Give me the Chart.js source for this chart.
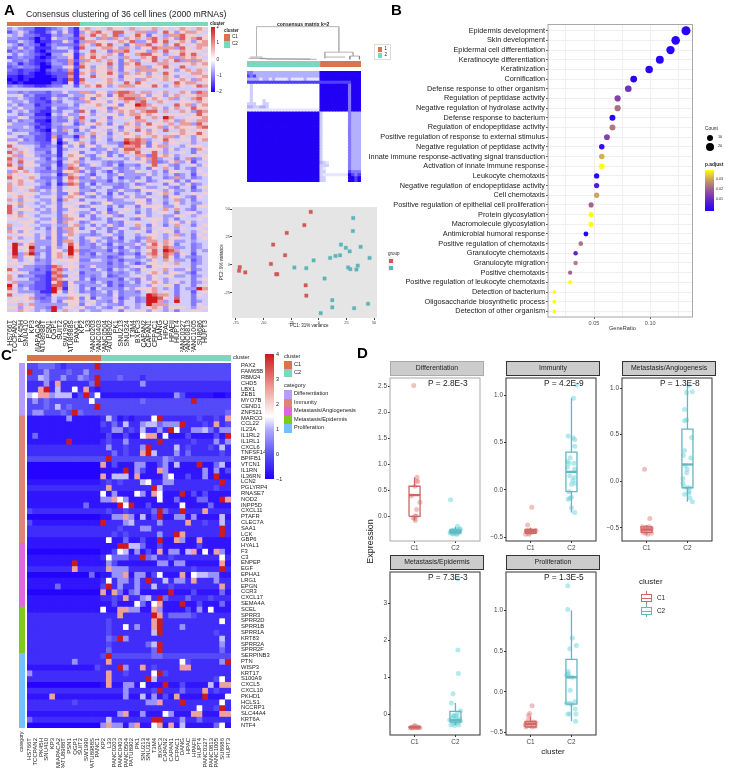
<!DOCTYPE html>
<html>
<head>
<meta charset="utf-8">
<title>Consensus clustering figure</title>
<script src="https://cdn.jsdelivr.net/npm/chart.js@4"></script>
<style>
body { margin: 0; background: #fff; font-family: "Liberation Sans", Arial, sans-serif; }
#fig { position: relative; width: 729px; height: 768px; overflow: hidden; filter: blur(0.35px); }
#fig canvas { position: absolute; }
.t { position: absolute; white-space: nowrap; line-height: 1; color: #222; }
.b { position: absolute; box-sizing: border-box; }
</style>
</head>
<body>
<div id="fig"></div>
<script>
// ---------- datos ----------
const clusterCounts = [13, 23];
const clusterColors = ['#D8754A', '#7DD6BE'];

// Panel A: 36 lineas celulares, niveles 0-9 (13 C1 + 23 C2), leidos a ojo
const aCols = ['HS766T','TCCPAN2','PK45H','SNU410','KP3','MIAPACA2','PATU8988T','PSN1','QGP1','SUIT2','SW1990','PATU8988S','PANC1','KP2','L33','PANC0203','PANC0403','PANC0504','PATU8902','PK1','SNU213','SNU324','T3M4','BXPC3','CAPAN2','CAPAN1','CFPAC1','DANG','HPAC','HPAFII','HUPT4','PANC0327','PANC0813','PANC1005','SU8686','HUPT3'];
const aLevelValues = [-2, -1.6, -1.25, -0.95, -0.7, -0.3, 0.35, 0.85, 1.4, 2];
const aRows = [
'45433 11234 531 67565 76657 56675 65676 576','24642 11353 631 46786 58865 77446 86467 765',
'54533 21143 441 75867 68456 86365 47786 656','44332 02164 432 86547 47576 75785 76486 786',
'33543 01133 641 47766 56768 44686 85676 467','54243 20243 332 76486 85536 77856 46865 677',
'43634 11145 541 85567 76475 46687 77486 576','24343 10233 352 55856 37785 66475 86676 665',
'53543 21044 661 46765 76365 78866 45686 856','23433 10134 461 76867 55475 57685 57476 765',
'53342 11243 372 47675 76367 46685 76847 476','34132 10144 371 76556 85376 85557 75566 767',
'23433 20033 562 86466 46366 77466 86585 566','32122 10232 371 56766 75365 47776 56467 575',
'22121 00122 281 76466 86475 76465 86556 776','11011 00012 271 56866 56366 66766 76465 567',
'01010 00002 181 85556 75466 47656 76676 476','10100 00022 161 76566 76585 86565 55867 756',
'34322 11233 552 57686 45777 66686 46765 687','55555 55555 555 55555 55655 55555 55555 555',
'44343 33244 644 77466 47887 57756 75576 487','55634 22243 354 46676 36877 76466 46756 677',
'44543 21264 543 76365 66788 47676 57465 786','54453 22143 554 47666 46576 78557 65566 576',
'45344 12244 453 56675 66366 98765 55867 467','54644 22153 344 65566 37666 77576 46756 866',
'35453 21143 553 86356 45767 57885 75576 487','55344 11054 644 56465 66467 76766 56665 686',
'44653 22143 464 85556 36565 86575 97556 667','35344 11043 353 75366 45556 77556 76476 577',
'64443 21144 652 46675 36576 46866 57577 486','44454 12143 444 65356 65366 75667 46766 678',
'53444 21053 752 54665 46465 86465 85576 566','45553 32143 354 45756 35676 56765 56676 686',
'65344 22172 441 76365 46566 76576 77465 466','44634 22161 653 55465 35587 87456 86566 467',
'66444 32250 356 75355 44398 87365 46655 455','85655 42341 646 36646 55377 86367 75546 665',
'57565 33351 455 55344 64688 75666 46455 376','85765 44251 566 35545 34576 86585 45565 365',
'67466 43341 576 64356 35355 77386 76455 656','85755 54252 466 35345 65546 46784 55357 346',
'75866 44341 567 45554 34355 66483 46746 255','86466 53351 476 34654 35244 35685 64355 646',
'66855 44252 487 64345 64345 45365 75354 355','47675 43342 667 35354 25344 65545 36655 365',
'76566 54451 376 54255 34644 44645 45345 256','86657 53342 587 34645 35244 35355 34745 345',
'56766 44352 676 44344 25454 65345 66353 655','76755 54251 387 35254 44345 34655 35646 345',
'75666 43353 566 34545 53345 65445 64355 256','75657 45463 666 44355 34644 36665 46445 345',
'66566 54453 367 35645 25355 45356 75355 656','56765 45563 576 64354 35646 44655 36654 365',
'75466 54462 765 35555 34455 66365 45745 355','56755 45453 556 65346 64444 66455 35645 445',
'86465 54563 665 34655 35355 36666 44655 366','85666 45463 466 55355 25565 45465 75754 355',
'86455 54453 565 44646 34655 35456 65356 645','56765 45553 766 35355 64355 66455 44665 456',
'66556 54463 476 65345 35654 35666 45355 565','55666 45563 765 34655 34365 65565 46646 455',
'75565 54454 467 45354 64355 75365 35755 356','46666 45363 776 35645 34654 46456 65465 565',
'76465 55463 476 55355 35355 65365 66355 456','55666 45463 675 44345 64355 45665 45745 365',
'76455 46363 465 35654 35255 34765 46655 356','55656 44463 775 34645 34354 35775 76445 455',
'69467 44463 586 34354 25444 64686 76355 345','59669 45364 596 44345 34254 35776 87445 345',
'69568 44366 497 33444 25345 45685 98755 354','59479 35367 696 34254 44244 25786 87365 255',
'68466 45367 576 44344 23455 34675 86354 345','56456 34356 666 33554 34244 45465 76445 245',
'66565 44365 565 44444 24354 24665 65755 345','55644 33287 666 34644 34345 65366 66555 355',
'86444 23278 465 44354 25454 36565 75446 345','65653 33187 556 24445 34345 45676 46654 255',
'76344 22178 365 34345 23445 65465 66445 345','75553 32187 656 35244 44254 36465 45555 356',
'57444 22168 264 44354 24345 35676 45645 345','96343 22188 265 34445 24244 45465 66355 356',
'85453 22197 165 35254 44354 66675 45354 497','66444 31196 365 34345 35344 35675 65355 256',
'85565 33265 566 55344 36344 45987 75355 365','56667 32354 476 36254 45245 34998 65855 355',
'66565 43353 666 45644 36355 34997 45955 345','55757 44444 466 36545 44355 45977 75555 365',
'66466 44394 565 64454 35645 45676 46665 456','55765 45495 756 45445 55365 66465 45355 665'
];
const aBarTicks = ['2', '1', '0', '\u22121', '\u22122'];

// Matriz de consenso k=2, niveles 0 (blanco) a 6 (azul)
const consensusRows = [
'44333333333333333333333 6666666666666','54533333333333333333333 6666666666666',
'33331331311113111131111 6666666666666','55555555555555555555555 5555555555666',
'02000000000000000000000 6666666664666','02000000000000000000000 6666666664666',
'02000000000000000000000 6666666664666','02000000000000000000000 6666666664666',
'02000000000000000000000 6666666664666','02000200000000000000000 6666666664666',
'22200220000000000000000 6666666664666','33223320000000000000000 6666666664666',
'11111111111111111111111 6666666664666','66666666666666666666666 2000000004333',
'66666666666666666666666 2000000004333','66666666666666666666666 2000000004333',
'66666666666666666666666 2000000004333','66666666666666666666666 2000000004333',
'66666666666666666666666 2000000004333','66666666666666666666666 2000000004333',
'66666666666666666666666 2000000004333','66666666666666666666666 2000000004333',
'66666666666666666666666 2000000004333','66666666666666666666666 2000000004333',
'66666666666666666666666 2000000004333','66666666666666666666666 2000000004333',
'66666666666666666666666 2000000004333','66666666666666666666666 2000000004333',
'66666666666666666666666 2000000004333','66666666666666666666666 3210000004333',
'66666666666666666666666 2220000004333','66666666666666666666666 2100000004333',
'66666666666666666666666 2200000005444','66666666666666666666666 2111111116545',
'66666666666666666666666 2200000006656','66666666666666666666666 2200000006656'
];
// dendrograma: segmentos x1,h1,x2,h2 (x en columnas, h en altura relativa)
const dendroMain = [[3,0.08,3,1],[3,1,29,1],[29,1,29,0.22],[24.6,0.22,33.5,0.22],[24.6,0.22,24.6,0.03],[33.5,0.22,33.5,0.1]];
const dendroLow = [[0.5,0.03,6,0.03],[1,0.07,5,0.07],[4,0.02,22,0.0],[6,0.01,20,0.01],[24.6,0.07,31,0.07],[32.5,0.1,35.5,0.1],[32.5,0.1,32.5,0],[35.5,0.1,35.5,0]];

// Panel PCA
const pcaRedX = [-7.3,-13.1,-29,-41.3,-30.5,-43.3,-71.5,-72.1,-66.5,-38.5,-37.6,-11.9,-11.3];
const pcaRedY = [47.4,35.5,28.5,18,8.4,0.6,-2.3,-5.5,-7,-8.7,-8.7,-18.6,-27.9];
const pcaTealX = [31.1,30.8,20,24.4,27.9,37.8,45.9,19.2,15.1,10.2,-4.7,-22.1,-11.3,26.5,28.5,35.2,34,5.2,12.2,12.2,31.9,44.5,1.7];
const pcaTealY = [41.9,30.2,18,15.1,11.9,16,6,8.4,7.8,6,3.8,-2.6,-3.2,-2.6,-4.1,-0.9,-4.4,-12.5,-32,-38.4,-39.2,-35.2,-43.6];
const pcaXTicks = [-75, -50, -25, 0, 25, 50];
const pcaYTicks = [-25, 0, 25, 50];
const pcaXGrid = [-62.5, -37.5, -12.5, 12.5, 37.5];
const pcaYGrid = [-37.5, -12.5, 12.5, 37.5];

// Panel B
const goTerms = ['Epidermis development','Skin development','Epidermal cell differentiation','Keratinocyte differentiation','Keratinization','Cornification','Defense response to other organism','Regulation of peptidase activity','Negative regulation of hydrolase activity','Defense response to bacterium','Regulation of endopeptidase activity','Positive regulation of response to external stimulus','Negative regulation of peptidase activity','Innate immune response-activating signal transduction','Activation of innate immune response','Leukocyte chemotaxis','Negative regulation of endopeptidase activity','Cell chemotaxis','Positive regulation of epithelial cell proliferation','Protein glycosylation','Macromolecule glycosylation','Antimicrobial humoral response','Positive regulation of chemotaxis','Granulocyte chemotaxis','Granulocyte migration','Positive chemotaxis','Positive regulation of leukocyte chemotaxis','Detection of bacterium','Oligosaccharide biosynthetic process','Detection of other organism'];
const goRatio = [.1319,.1227,.1181,.1086,.0991,.0853,.0805,.071,.071,.0664,.0664,.0615,.0569,.0569,.0569,.0523,.0523,.0523,.0474,.0474,.0474,.0428,.0382,.0336,.0336,.0287,.0287,.0147,.0147,.0147];
const goCount = [27,25,24,22,20,17,16,14,14,13,13,12,11,11,11,10,10,10,9,9,9,8,7,6,6,5,5,3,3,3];
const goPadj = [.001,.001,.001,.001,.001,.001,.013,.016,.024,.001,.025,.016,.003,.032,.04,.002,.008,.031,.022,.04,.04,.001,.024,.01,.026,.022,.04,.04,.04,.04];
const goGridX = [0.025, 0.05, 0.075, 0.1, 0.125];
const goLabelX = [0.05, 0.1];

// Panel C: valores por nivel, fondo por fila y celdas destacadas [col, nivel, ...]
const cGenes = ['PAX2','FAM65B','RBM24','CHD5','LBX1','ZEB1','MYO7B','CEND1','ZNF521','MARCO','CCL22','IL23A','IL1RL2','IL1RL1','CXCL6','TNFSF14','BPIFB1','VTCN1','IL1RN','IL36RN','LCN2','PGLYRP4','RNASE7','NOD2','INPP5D','CXCL11','PTAFR','CLEC7A','SAA1','LCK','GBP6','HYAL1','F3','C3','ENPEP','EGF','EPHA1','LRG1','EPGN','CCR3','CXCL17','SEMA4A','SCEL','SPRR3','SPRR2D','SPRR1B','SPRR1A','KRT83','SPRR2A','SPRR2F','SERPINB3','PTN','WISP3','KRT17','S100A9','CXCL5','CXCL10','PKHD1','HCLS1','NCCRP1','SLC44A4','KRT6A','NTF4'];
const cCols = aCols;
const cLevelValues = [-0.95, -0.75, -0.45, -0.1, 0.25, 0.7, 1.1, 1.5, 2.6, 4];
const cBaseC1 = [3,3,3,2,2,3,3,3,3,1,1,1,1,1,2,2,3,0,0,0,1,2,1,1,1,2,0,1,2,2,1,1,0,1,1,2,0,1,1,0,1,1,1,2,2,2,2,2,2,2,2,2,1,2,2,0,2,1,2,2,1,2,0];
const cBaseC2 = [3,3,3,2,2,1,3,3,3,2,2,2,1,2,2,2,3,1,1,1,2,2,1,1,1,2,1,2,2,2,1,1,1,2,1,2,1,2,2,1,2,1,1,2,2,2,2,2,2,2,3,2,2,2,2,1,2,1,2,2,1,2,1];
const cHot = [
[12,9,2,4,3,4,4,4,6,2],
[0,9,3,5,10,5,7,4,13,3],
[2,6,3,5,6,5,9,5,10,4,12,9,16,4,20,2],
[3,5,5,8,12,9,20,5,11,4],
[2,8,3,9,5,6,8,7,10,8,12,1,24,2],
[0,6,1,7,2,8,3,8,4,5,5,6,6,6,7,6,8,1,9,3,10,9,11,3,12,7,26,5,27,3,33,0,34,0],
[1,5,3,4,11,7,29,9,20,4],
[5,6,12,9,7,4,3,4],
[1,5,2,5,6,4,8,9,9,4,35,4],
[7,5,14,6,15,3,16,1,18,1,22,7,23,9,35,8,30,3,33,3],
[13,3,15,4,17,6,20,5,21,6,22,6,23,4,24,5,25,5,26,5,27,9,31,3,33,8,35,3],
[15,5,16,5,18,3,20,6,23,5,25,9,26,7,29,5,30,5,31,6,32,4,34,5,35,5],
[1,4,14,3,17,3,20,7,21,8,22,8,24,7,28,3,33,3,35,9],
[7,9,14,3,17,5,23,9,26,2,29,3,33,5,35,5],
[14,5,17,3,20,5,21,9,26,6,34,6,28,3,32,3],
[15,4,17,3,20,8,21,9,22,6,26,5,28,4,34,3],
[14,9,24,5,25,4],
[13,8,15,3,19,5,20,5,24,5,26,6,30,9,33,4,34,6,23,3],
[17,9,19,5,20,3,23,8,24,5,31,5,33,5,35,3],
[13,8,15,6,16,6,17,6,19,8,24,5,25,7,33,9,28,3,31,5],
[20,6,21,7,24,5,25,5,34,9,14,3,16,3],
[14,8,22,9,23,6,33,3],
[13,7,15,5,19,7,20,5,22,8,23,7,27,9,29,3,31,3],
[13,5,14,5,15,8,16,7,17,5,23,7,26,4,30,4,31,4,34,9,35,8],
[10,4,16,9,17,7,18,9,27,7,32,4,21,3],
[0,3,14,3,23,9,24,4,27,9,31,8,22,4,17,3],
[15,5,16,5,17,8,18,5,20,6,23,9,26,5,27,5,29,5,34,6,22,3],
[0,3,13,9,17,5,18,6,23,5,28,8,34,6,31,3],
[20,5,21,5,34,9,16,3],
[17,3,23,5,26,9,27,8,34,9,15,3],
[14,7,17,4,23,9,26,8,27,5,30,8,20,3],
[16,9,17,9,18,6,19,6,20,4,30,3,23,3],
[15,3,16,7,17,6,19,5,23,8,25,5,26,5,28,6,29,8,31,7,33,8,34,5,21,3],
[14,7,15,4,16,4,17,4,20,9,21,4,22,5,34,7,25,3],
[8,9,14,5,23,5,24,5,26,5,27,5,34,8,15,3],
[8,8,14,8,15,5,16,5,17,5,34,9,29,3],
[11,4,15,5,16,5,17,8,19,5,20,5,23,7,27,8,29,7,30,6,31,6,32,5,33,5,22,3],
[14,7,16,5,17,5,19,5,21,9,24,6,26,5,27,5,29,8,33,5],
[5,4,14,9,16,5,19,5,22,6,34,8,13,3,25,3],
[13,8,15,8,16,4,18,4,19,5,25,9,34,4,29,3],
[17,8,20,5,21,6,23,9,24,4,28,4,15,3,32,3],
[19,7,20,4,22,7,23,8,27,9,34,4,30,3,15,3],
[13,7,16,8,17,8,18,5,19,5,22,8,23,5,30,5,32,7,28,3],
[16,8,22,9,23,8,25,4,26,4,27,4,28,4,29,3],
[22,8,23,9,34,7,14,3],
[17,7,19,5,22,8,23,9,27,5,14,3],
[22,6,23,9,14,3,33,3],
[14,4,16,9,17,5,34,6,15,3],
[21,4,22,6,23,9,34,5,14,3],
[14,4,22,4,23,9,34,4],
[14,9,22,4,23,4],
[8,5,14,8,27,7,34,5,35,9,28,3],
[16,9,17,5,20,8,27,8,28,8,12,3,22,3],
[0,5,14,8,22,7,23,9,24,3,17,3],
[14,8,21,9,22,6,34,7,33,3],
[14,8,17,5,18,5,20,7,24,9,32,6,34,8,35,8,27,3],
[17,5,23,9,27,4,31,8,22,3,33,3],
[4,8,17,5,20,6,22,5,26,8,31,9,35,7,24,3],
[21,5,22,5,23,8,27,9,34,7,8,3],
[34,9,30,7,33,3],
[16,5,17,8,20,5,24,7,25,5,29,8,30,8,34,8,35,8],
[0,4,14,6,22,9,23,9,27,5,30,4],
[13,5,14,8,15,5,16,5,18,5,19,8,22,7,23,8,25,8,27,6,33,4,34,7]
];
const cCategoryCounts = [9, 22, 11, 8, 13];
const cCategoryNames = ['Differentiation', 'Immunity', 'Metastasis/Angiogenesis', 'Metastasis/Epidermis', 'Proliferation'];
const cCategoryColors = ['#B59CFF', '#DE8377', '#E066E0', '#80C81E', '#72C0FF'];
const cBarTicks = ['4', '3', '2', '1', '0', '\u22121'];

// Panel D: puntos [x, expresion] y cajas [min, q1, mediana, q3, max]
const diffC1 = [[.98,2.52],[1.06,.755],[1.04,.68],[1.08,.67],[1.01,.58],[1.05,.13],[1.02,.01],[1,-.04],[1.02,-.08],[.96,-.02],[1.04,0],[.92,.39],[1.13,.27]];
const diffC2 = [[1.88,.32],[2.05,-.19],[2.1,-.24],[1.9,-.27],[1.94,-.27],[1.98,-.26],[2.02,-.26],[2.08,-.27],[2.12,-.25],[1.89,-.3],[1.93,-.3],[1.97,-.29],[2.01,-.29],[2.05,-.3],[2.09,-.29],[1.87,-.32],[1.92,-.33],[1.96,-.32],[2,-.32],[2.04,-.33],[2.07,-.31],[2.03,-.35],[1.95,-.34]];
const immuC1 = [[1.03,-.185],[.93,-.373],[.88,-.47],[.91,-.44],[.95,-.46],[.98,-.44],[1,-.43],[1.03,-.45],[1.06,-.44],[1.1,-.44],[1.13,-.43],[.93,-.43],[.96,-.47]];
const immuC2 = [[2.05,.97],[2.12,1.11],[1.92,.57],[2.04,.55],[2.08,.53],[2.08,.46],[1.97,.34],[1.94,.28],[2.06,.28],[1.9,.24],[2.08,.22],[1.96,.15],[2.03,.1],[2.08,.07],[1.94,-.02],[1.96,-.09],[1.92,-.1],[2,-.08],[2,-.19],[2.08,-.24],[2,.06],[2.07,.13],[1.9,.3]];
const metaC1 = [[.95,.13],[1.08,-.4],[.9,-.49],[.93,-.52],[.97,-.5],[1,-.5],[1.04,-.52],[1.07,-.49],[1.12,-.51],[.92,-.55],[.98,-.56],[1.03,-.57],[1.12,-.56]];
const metaC2 = [[2.04,1.03],[2.12,.96],[1.98,.95],[1.93,.77],[1.93,.65],[1.98,.66],[2.1,.47],[1.93,.33],[1.9,.28],[2.08,.25],[1.99,.13],[1.98,.09],[1.89,.03],[1.89,-.02],[1.92,-.06],[2,-.07],[2.06,-.07],[2.04,-.11],[1.93,-.14],[2.03,-.13],[2.06,-.18],[2.12,-.22],[1.95,.17]];
const epidC1 = [[.9,-.37],[.93,-.36],[.96,-.35],[.98,-.37],[1,-.33],[1.02,-.36],[1.04,-.35],[1.06,-.37],[1.08,-.36],[1.1,-.36],[1.13,-.37],[.94,-.38],[1.01,-.31]];
const epidC2 = [[2.06,3.67],[2.06,1.74],[2.07,1.1],[1.94,.55],[1.9,.3],[2.12,.09],[1.96,-.05],[2.04,0],[1.92,-.12],[2.1,-.13],[1.89,-.3],[2.08,-.3],[1.98,-.2],[2.04,-.16],[1.95,-.05],[2.01,-.25],[1.86,-.16],[2.12,-.18],[2,-.1],[1.94,-.25],[2.06,-.23],[1.98,-.31],[2.02,-.05]];
const prolC1 = [[1.04,-.17],[.98,-.265],[.95,-.29],[.89,-.43],[1.11,-.42],[1.02,-.4],[.95,-.39],[1.07,-.37],[.87,-.4],[1.13,-.38],[.98,-.41],[1.04,-.43],[.95,-.34]];
const prolC2 = [[1.91,1.3],[1.91,1.01],[2.02,.66],[2.12,.57],[1.96,.53],[1.92,.25],[1.88,.21],[1.97,.02],[1.88,-.14],[1.96,-.14],[2.08,-.12],[2,-.15],[2.09,-.21],[1.91,-.27],[1.96,-.27],[2.11,-.27],[2.1,-.36],[2.02,.18],[1.94,.19],[1.92,.22]];
const diffBox = [[-.08,0,.41,.58,.75],[-.34,-.32,-.29,-.26,-.2]];
const immuBox = [[-.47,-.46,-.44,-.42,-.4],[-.24,-.02,.19,.4,.97]];
const metaBox = [[-.57,-.55,-.52,-.49,-.47],[-.22,-.07,.18,.56,1.04]];
const epidBox = [[-.39,-.37,-.36,-.35,-.33],[-.3,-.22,-.17,.07,.3]];
const prolBox = [[-.44,-.43,-.39,-.36,-.3],[-.36,-.15,.18,.4,1]];
const diffTicks = [0, .5, 1, 1.5, 2, 2.5];
const immuTicks = [-.5, 0, .5, 1];
const metaTicks = [-.5, 0, .5, 1];
const epidTicks = [0, 1, 2, 3];
const prolTicks = [-.5, 0, .5, 1];

// ---------- ayudas ----------
const fig = document.getElementById('fig');
Chart.defaults.animation = false;
Chart.defaults.responsive = false;
Chart.defaults.font.family = '"Liberation Sans", Arial, sans-serif';
Chart.defaults.plugins.legend.display = false;
Chart.defaults.plugins.tooltip.enabled = false;

// fondo y marco del panel
Chart.register({
    id: 'frame',
    beforeDatasetsDraw(chart, args, opts) {
        const a = chart.chartArea;
        if (opts.fill) {
            chart.ctx.fillStyle = opts.fill;
            chart.ctx.fillRect(a.left, a.top, a.width, a.height);
        }
    },
    afterDatasetsDraw(chart, args, opts) {
        const a = chart.chartArea;
        if (opts.stroke) {
            chart.ctx.strokeStyle = opts.stroke;
            chart.ctx.lineWidth = opts.width || 1;
            chart.ctx.strokeRect(a.left, a.top, a.width, a.height);
        }
    }
});

function text(str, x, y, size, extra) {
    const el = document.createElement('div');
    el.className = 't';
    el.textContent = str;
    el.style.left = x + 'px';
    el.style.top = (y - size / 2) + 'px';
    el.style.fontSize = size + 'px';
    Object.assign(el.style, extra || {});
    fig.appendChild(el);
    return el;
}

function rotatedText(str, x, y, size, extra) {
    return text(str, x, y, size, Object.assign({ transform: 'translate(-50%,0) rotate(-90deg)' }, extra || {}));
}

function block(x, y, w, h, extra) {
    const el = document.createElement('div');
    el.className = 'b';
    el.style.left = x + 'px';
    el.style.top = y + 'px';
    el.style.width = w + 'px';
    el.style.height = h + 'px';
    Object.assign(el.style, extra || {});
    fig.appendChild(el);
    return el;
}

// canvas colocado para que el area de dibujo caiga en l,t,r,b
function place(l, t, r, b, gut) {
    const g = Object.assign({ l: 0, t: 0, r: 0, b: 0 }, gut || {});
    const c = document.createElement('canvas');
    c.width = r - l + g.l + g.r;
    c.height = b - t + g.t + g.b;
    c.style.left = (l - g.l) + 'px';
    c.style.top = (t - g.t) + 'px';
    fig.appendChild(c);
    return c;
}

function fit(size) {
    return function (s) {
        if (s.isHorizontal()) s.height = size; else s.width = size;
        s.paddingLeft = s.paddingRight = s.paddingTop = s.paddingBottom = 0;
    };
}

function setTicks(values) {
    return function (s) { s.ticks = values.map(v => ({ value: v })); };
}

function hexMix(stops, v) {
    if (v <= stops[0][0]) return stops[0][1];
    for (let i = 1; i < stops.length; i++) {
        if (v <= stops[i][0]) {
            const f = (v - stops[i - 1][0]) / (stops[i][0] - stops[i - 1][0]);
            const a = stops[i - 1][1], b = stops[i][1];
            const ch = k => Math.round(parseInt(a.substr(k, 2), 16) * (1 - f) + parseInt(b.substr(k, 2), 16) * f);
            return 'rgb(' + ch(1) + ',' + ch(3) + ',' + ch(5) + ')';
        }
    }
    return stops[stops.length - 1][1];
}

// heatmap con barras apiladas: un dataset por fila
function heatChart(canvas, values, colorFn, columns, xScale, yScale, pad) {
    return new Chart(canvas, {
        type: 'bar',
        data: {
            labels: columns,
            datasets: values.map(row => ({
                data: row.map(() => 1),
                backgroundColor: row.map(colorFn),
                barPercentage: 1,
                categoryPercentage: 1,
                inflateAmount: 0.4
            }))
        },
        options: {
            layout: { padding: pad || 0 },
            scales: {
                x: Object.assign({ stacked: true, display: false }, xScale || {}),
                y: Object.assign({ stacked: true, reverse: true, min: 0, max: values.length, display: false }, yScale || {})
            }
        }
    });
}

// franja de anotacion
function strip(l, t, r, b, counts, colors, vertical) {
    const total = counts.reduce((s, n) => s + n, 0);
    new Chart(place(l, t, r, b), {
        type: 'bar',
        data: {
            labels: [''],
            datasets: counts.map((n, i) => ({ data: [n], backgroundColor: colors[i], barPercentage: 1, categoryPercentage: 1 }))
        },
        options: {
            indexAxis: vertical ? 'x' : 'y',
            layout: { padding: 0 },
            scales: {
                x: vertical ? { stacked: true, display: false } : { stacked: true, display: false, min: 0, max: total },
                y: vertical ? { stacked: true, display: false, reverse: true, min: 0, max: total } : { stacked: true, display: false }
            }
        }
    });
}

// ---------- Panel A ----------
text('A', 4, 9, 15, { fontWeight: 'bold', color: '#000' });
text('Consensus clustering of 36 cell lines (2000 mRNAs)', 26, 14, 8.7);
strip(7, 22, 208, 26, clusterCounts, clusterColors);

const aValues = aRows.map(r => r.replace(/ /g, '').padEnd(36, '5').split('').map(d => aLevelValues[+d]));
const aStops = [[-2, '#1f00ff'], [-1, '#7f74ff'], [0, '#f6f2fa'], [1, '#e58d8e'], [2, '#d2191c']];
heatChart(place(7, 27, 208, 312, { b: 40 }), aValues, v => hexMix(aStops, v), aCols, {
    display: true,
    grid: { display: false },
    border: { display: false },
    afterFit: fit(40),
    ticks: { autoSkip: false, maxRotation: 90, minRotation: 90, font: { size: 7 }, color: '#222', padding: 0 }
}, {}, { bottom: 0 });

block(211, 27, 4, 65, { background: 'linear-gradient(to bottom,#d2191c,#ffffff 50%,#1f00ff)' });
aBarTicks.forEach((t, i) => text(t, 216.5, 27.5 + i * 16.2, 4.5));
text('cluster', 210, 24, 4.5, { fontWeight: 'bold' });
text('cluster', 224, 31, 4.5, { fontWeight: 'bold' });
block(224, 34, 6, 7, { background: clusterColors[0] });
block(224, 41, 6, 7, { background: clusterColors[1] });
text('C1', 232, 37.5, 4.5);
text('C2', 232, 44.5, 4.5);

// ---------- Consenso ----------
text('consensus matrix k=2', 277, 24, 5, { fontWeight: 'bold' });
const dendroSets = (segs, color, w) => segs.map(s => ({
    data: [{ x: s[0], y: s[1] }, { x: s[2], y: s[3] }],
    showLine: true, borderColor: color, borderWidth: w, pointRadius: 0
}));
new Chart(place(247, 26, 361, 60), {
    type: 'scatter',
    data: { datasets: dendroSets(dendroMain, '#b5b5b5', 1).concat(dendroSets(dendroLow, '#777', 0.6)) },
    options: {
        layout: { padding: 0 },
        scales: { x: { display: false, min: 0, max: 36 }, y: { display: false, min: -0.02, max: 1.02 } }
    }
});
strip(247, 61, 361, 67, [23, 13], [clusterColors[1], clusterColors[0]]);
const consensusValues = consensusRows.map(r => r.replace(/ /g, '').split('').map(d => +d / 6));
const consensusStops = [[0, '#ffffff'], [1 / 6, '#e6e6ff'], [2 / 6, '#cfcfff'], [3 / 6, '#b2b0ff'], [4 / 6, '#8478ff'], [5 / 6, '#5040ff'], [1, '#2200f5']];
heatChart(place(247, 71, 361, 182), consensusValues, v => hexMix(consensusStops, v), consensusValues[0].map((v, i) => i));
block(374, 44, 17, 16, { border: '1px solid #ddd' });
block(378, 47, 4, 4.5, { background: clusterColors[0] });
block(378, 53, 4, 4.5, { background: clusterColors[1] });
text('1', 384.5, 49.5, 4.5);
text('2', 384.5, 55.5, 4.5);

// ---------- PCA ----------
const pcaGridColor = ctx => pcaXGrid.includes(ctx.tick.value) || pcaYGrid.includes(ctx.tick.value) ? '#ffffff' : '#eeeeee';
const pcaTickColor = list => ctx => list.includes(ctx.tick.value) ? '#444' : 'transparent';
new Chart(place(232, 204, 382, 318, { l: 12, b: 8, t: 2 }), {
    type: 'scatter',
    data: {
        datasets: [
            { data: pcaRedX.map((x, i) => ({ x, y: pcaRedY[i] })), pointStyle: 'rect', pointRadius: 2.4, backgroundColor: '#CF5A55', borderColor: 'rgba(207,90,85,.35)', borderWidth: 1 },
            { data: pcaTealX.map((x, i) => ({ x, y: pcaTealY[i] })), pointStyle: 'rect', pointRadius: 2.4, backgroundColor: '#5DB4BA', borderColor: 'rgba(93,180,186,.35)', borderWidth: 1 }
        ]
    },
    options: {
        layout: { padding: { top: 2 } },
        plugins: { frame: { fill: '#e5e5e5' } },
        scales: {
            x: {
                min: -78.5, max: 52.6,
                afterFit: fit(8),
                afterBuildTicks: setTicks(pcaXTicks.concat(pcaXGrid).sort((a, b) => a - b)),
                grid: { color: pcaGridColor, tickColor: pcaTickColor(pcaXTicks), tickLength: 2, lineWidth: 1 },
                border: { display: false },
                ticks: { autoSkip: false, maxRotation: 0, font: { size: 4 }, color: '#444', padding: 0, callback: v => pcaXTicks.includes(v) ? v : '' }
            },
            y: {
                min: -48, max: 51.8,
                afterFit: fit(12),
                afterBuildTicks: setTicks(pcaYTicks.concat(pcaYGrid).sort((a, b) => a - b)),
                grid: { color: pcaGridColor, tickColor: pcaTickColor(pcaYTicks), tickLength: 2, lineWidth: 1 },
                border: { display: false },
                ticks: { autoSkip: false, font: { size: 4 }, color: '#444', padding: 0, callback: v => pcaYTicks.includes(v) ? v : '' }
            }
        }
    }
});
rotatedText('PC2: 9% variance', 222, 262, 4.5);
text('PC1: 31% variance', 290, 326, 4.5);
text('group', 388, 254, 4.5);
block(388, 257, 6, 7, { background: '#f2f2f2' });
block(388, 264, 6, 7, { background: '#f2f2f2' });
block(389, 258.5, 4, 4, { background: '#CF5A55' });
block(389, 265.5, 4, 4, { background: '#5DB4BA' });

// ---------- Panel B ----------
text('B', 391, 9, 15, { fontWeight: 'bold', color: '#000' });
const padjStops = [[0, '#2200ff'], [.01, '#5f22cc'], [.02, '#9a5598'], [.03, '#c89a68'], [.04, '#ffff00']];
new Chart(place(548, 20, 697, 317, { l: 190, b: 14 }), {
    type: 'scatter',
    data: {
        datasets: [{
            data: goRatio.map((x, i) => ({ x, y: i })),
            pointRadius: ctx => 1.9 + (goCount[ctx.dataIndex] - 3) * 2.6 / 24,
            backgroundColor: ctx => hexMix(padjStops, goPadj[ctx.dataIndex]),
            borderWidth: 0
        }]
    },
    options: {
        layout: { padding: 0 },
        plugins: { frame: { stroke: '#a8a8a8', width: 1 } },
        scales: {
            x: {
                min: 0.009, max: 0.1377,
                afterFit: fit(14),
                afterBuildTicks: setTicks(goGridX),
                grid: { color: '#eeeeee', tickColor: c => goLabelX.includes(c.tick.value) ? '#555' : 'transparent', tickLength: 2 },
                border: { display: false },
                ticks: { autoSkip: false, maxRotation: 0, font: { size: 5.6 }, color: '#555', padding: 1, callback: v => goLabelX.includes(v) ? v.toFixed(2) : '' }
            },
            y: {
                reverse: true, min: -0.64, max: 29.58,
                afterFit: fit(190),
                afterBuildTicks: setTicks(goTerms.map((t, i) => i)),
                grid: { color: '#efefef', tickColor: '#555', tickLength: 2 },
                border: { display: false },
                ticks: { autoSkip: false, font: { size: 7.3 }, color: '#222', padding: 1, callback: v => goTerms[v] }
            }
        }
    }
});
text('GeneRatio', 609, 329, 5.6, { color: '#333' });
text('Count', 705, 129, 4.8);
block(707, 135, 6, 6, { background: '#000', borderRadius: '50%' });
block(706, 143, 8, 8, { background: '#000', borderRadius: '50%' });
text('10', 718, 138, 3.8);
text('20', 718, 147, 3.8);
text('p.adjust', 705, 165, 4.8, { fontWeight: 'bold' });
block(705, 170, 9, 41, { background: 'linear-gradient(to top,#2200ff,#5f22cc 25%,#9a5598 50%,#c89a68 75%,#ffff00)' });
text('0.03', 716, 180, 3.6);
text('0.02', 716, 190, 3.6);
text('0.01', 716, 200, 3.6);

// ---------- Panel C ----------
text('C', 1, 354, 15, { fontWeight: 'bold', color: '#000' });
strip(27, 355, 231, 361, clusterCounts, clusterColors);
strip(19, 363, 25, 728, cCategoryCounts, cCategoryColors, true);
text('cluster', 233, 358, 5.6);
const cValues = cGenes.map((g, r) => {
    const row = cCols.map((c, i) => cLevelValues[i < 13 ? cBaseC1[r] : cBaseC2[r]]);
    const hot = cHot[r];
    for (let k = 0; k < hot.length; k += 2) row[hot[k]] = cLevelValues[hot[k + 1]];
    return row;
});
const cStops = [[-1, '#2200ff'], [0, '#5a52f6'], [1, '#b4aeff'], [1.5, '#ffffff'], [2.6, '#eda29c'], [4, '#cc1a1f']];
const cRowTicks = cGenes.map((g, i) => i + 0.5);
heatChart(place(27, 363, 231, 728, { r: 40, b: 40 }), cValues, v => hexMix(cStops, v), cCols, {
    display: true,
    grid: { display: false },
    border: { display: false },
    afterFit: fit(40),
    ticks: { autoSkip: false, maxRotation: 90, minRotation: 90, font: { size: 6 }, color: '#222', padding: 2 }
}, {
    display: true,
    position: 'right',
    afterFit: fit(40),
    afterBuildTicks: setTicks(cRowTicks),
    grid: { display: false },
    border: { display: false },
    ticks: { autoSkip: false, font: { size: 5.8 }, color: '#222', padding: 2, callback: v => cGenes[v - 0.5] }
});
rotatedText('category', 22, 742, 5.3);
block(265, 354, 8.5, 125, { background: 'linear-gradient(to bottom,#cc1a1f,#eda29c 28%,#ffffff 50%,#b4aeff 60%,#5a52f6 80%,#2200ff)' });
cBarTicks.forEach((t, i) => text(t, 276, 354.5 + i * 25, 5.4));
text('cluster', 284, 356.5, 5.6);
block(284, 361, 8, 8, { background: clusterColors[0] });
block(284, 369, 8, 8, { background: clusterColors[1] });
text('C1', 294, 365, 5.6);
text('C2', 294, 373, 5.6);
text('category', 284, 386, 5.6);
cCategoryNames.forEach((n, i) => {
    block(284, 390 + i * 8.5, 8, 8.5, { background: cCategoryColors[i] });
    text(n, 294, 394 + i * 8.5, 5.6);
});

// ---------- Panel D ----------
text('D', 357, 352, 15, { fontWeight: 'bold', color: '#000' });
const boxRed = '#CF6665', boxTeal = '#66B6BF', dotRed = 'rgba(226,130,125,.5)', dotTeal = 'rgba(105,214,220,.5)';
const boxHalf = 0.135;

function boxSets(x, s, color) {
    const line = (pts, w) => ({ data: pts.map(p => ({ x: p[0], y: p[1] })), showLine: true, borderColor: color, borderWidth: w, pointRadius: 0 });
    return [
        line([[x - boxHalf, s[1]], [x + boxHalf, s[1]], [x + boxHalf, s[3]], [x - boxHalf, s[3]], [x - boxHalf, s[1]]], 1.3),
        line([[x, s[3]], [x, s[4]]], 1.3),
        line([[x, s[1]], [x, s[0]]], 1.3),
        line([[x - boxHalf, s[2]], [x + boxHalf, s[2]]], 2.3)
    ];
}

function facet(l, t, r, b, title, pText, c1, c2, stats, ticks, ymin, ymax, frameColor) {
    block(l, t - 15, r - l, 15, { background: '#cccccc', border: '1px solid ' + frameColor });
    text(title, (l + r) / 2, t - 7.5, 6.9, { transform: 'translateX(-50%)' });
    new Chart(place(l, t, r, b, { l: 26, b: 13, t: 2 }), {
        type: 'scatter',
        data: {
            datasets: boxSets(1, stats[0], boxRed).concat(boxSets(2, stats[1], boxTeal)).concat([
                { data: c1.map(p => ({ x: p[0], y: p[1] })), pointRadius: 2.5, backgroundColor: dotRed, borderWidth: 0 },
                { data: c2.map(p => ({ x: p[0], y: p[1] })), pointRadius: 2.5, backgroundColor: dotTeal, borderWidth: 0 }
            ])
        },
        options: {
            layout: { padding: { top: 2 } },
            plugins: { frame: { stroke: frameColor, width: 1 } },
            scales: {
                x: {
                    min: 0.4, max: 2.6,
                    afterFit: fit(13),
                    afterBuildTicks: setTicks([1, 2]),
                    grid: { drawOnChartArea: false, tickColor: '#333', tickLength: 2 },
                    border: { display: false },
                    ticks: { autoSkip: false, maxRotation: 0, font: { size: 6.4 }, color: '#444', padding: 1, callback: v => 'C' + v }
                },
                y: {
                    min: ymin, max: ymax,
                    afterFit: fit(26),
                    afterBuildTicks: setTicks(ticks),
                    grid: { drawOnChartArea: false, tickColor: '#333', tickLength: 2 },
                    border: { display: false },
                    ticks: { autoSkip: false, font: { size: 6.4 }, color: '#444', padding: 1, callback: v => ticks[ticks.length - 1] === 3 ? v : (v < 0 ? '\u2212' + Math.abs(v).toFixed(1) : v.toFixed(1)) }
                }
            }
        }
    });
    text(pText, l + 38, t + 7.5, 8.4);
}

facet(390, 376, 484, 541, 'Differentiation', 'P = 2.8E-3', diffC1, diffC2, diffBox, diffTicks, -0.474, 2.663, '#aaaaaa');
facet(506, 376, 600, 541, 'Immunity', 'P = 4.2E-9', immuC1, immuC2, immuBox, immuTicks, -0.542, 1.184, '#333333');
facet(622, 376, 716, 541, 'Metastasis/Angiogenesis', 'P = 1.3E-8', metaC1, metaC2, metaBox, metaTicks, -0.642, 1.109, '#333333');
facet(390, 570, 484, 735, 'Metastasis/Epidermis', 'P = 7.3E-3', epidC1, epidC2, epidBox, epidTicks, -0.57, 3.856, '#333333');
facet(506, 570, 600, 735, 'Proliferation', 'P = 1.3E-5', prolC1, prolC2, prolBox, prolTicks, -0.528, 1.47, '#333333');

rotatedText('Expression', 370, 541, 9);
text('cluster', 553, 752, 8, { transform: 'translateX(-50%)' });
text('cluster', 639, 582, 8);
[[0, boxRed, 'C1', 598], [1, boxTeal, 'C2', 611]].forEach(k => {
    block(646, k[3] - 7, 1, 13, { background: k[1] });
    block(641, k[3] - 4, 11, 8, { border: '1.2px solid ' + k[1], background: '#fff' });
    block(641, k[3] - 0.5, 11, 1.4, { background: k[1] });
    text(k[2], 657, k[3], 6.4);
});
</script>
</body>
</html>
